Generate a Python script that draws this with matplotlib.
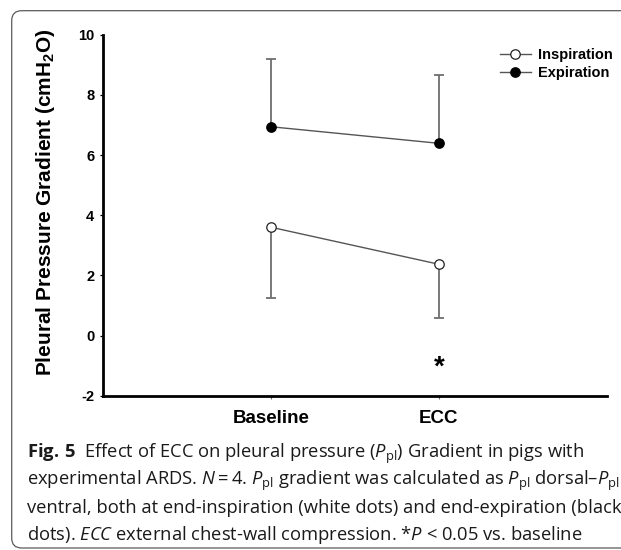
import matplotlib
matplotlib.use("Agg")
import matplotlib.pyplot as plt
import numpy as np
from matplotlib.patches import FancyBboxPatch

# values
conditions = ["Baseline", "ECC"]
insp_mean = [3.60, 2.37]
insp_sd = [2.35, 1.78]      # drawn downward only
exp_mean = [6.94, 6.39]
exp_sd = [2.24, 2.26]       # drawn upward only
star_pos = (2, -1.05)
yticks = [-2, 0, 2, 4, 6, 8, 10]

caption = [
    r"$\mathbf{Fig.\,5}$  Effect of ECC on pleural pressure ($P_{\mathrm{pl}}$) Gradient in pigs with",
    r"experimental ARDS. $N = 4$. $P_{\mathrm{pl}}$ gradient was calculated as $P_{\mathrm{pl}}$ dorsal–$P_{\mathrm{pl}}$",
    "ventral, both at end-inspiration (white dots) and end-expiration (black",
    r"dots). $ECC$ external chest-wall compression. *$P$ < 0.05 vs. baseline",
]

plt.rcParams['mathtext.fontset'] = 'custom'
plt.rcParams['mathtext.rm'] = 'Open Sans'
plt.rcParams['mathtext.it'] = 'Open Sans:italic'
plt.rcParams['mathtext.bf'] = 'Open Sans:bold'
plt.rcParams['mathtext.sf'] = 'Liberation Sans:bold'

arial = ['Liberation Sans', 'DejaVu Sans']
grey = '#6e6e6e'

fig = plt.figure(figsize=(6.21, 5.5), dpi=100)
ax = fig.add_axes([0.1663, 0.2805, 0.8106, 0.6564])

x = np.array([1, 2])
lo = np.subtract(insp_mean, insp_sd)
hi = np.add(exp_mean, exp_sd)

# one-sided error bars
ax.vlines(x, lo, insp_mean, color=grey, lw=1.3, zorder=2)
ax.plot(x, lo, ls='none', marker='_', ms=7.5, mew=1.3, color=grey, zorder=2)
ax.vlines(x, exp_mean, hi, color=grey, lw=1.3, zorder=2)
ax.plot(x, hi, ls='none', marker='_', ms=7.5, mew=1.3, color=grey, zorder=2)

ax.plot(x, insp_mean, color='#555555', lw=1.0, marker='o', ms=6.8,
        mfc='white', mec='#222222', mew=0.9, label='Inspiration', zorder=3)
ax.plot(x, exp_mean, color='#555555', lw=1.0, marker='o', ms=6.8,
        mfc='black', mec='black', mew=0.9, label='Expiration', zorder=3)

ax.text(star_pos[0], star_pos[1], '*', ha='center', va='center',
        fontsize=20, fontweight='bold', family=arial)

ax.set_xlim(0, 3)
ax.set_ylim(-2, 10)
ax.set_xticks(x)
ax.set_xticklabels(conditions, fontsize=13.5, fontweight='bold', family=arial)
ax.set_yticks(yticks)
ax.set_yticklabels([str(v) for v in yticks], fontsize=10.5, fontweight='bold', family=arial)
ax.tick_params(axis='y', length=2.4, width=0.9, pad=4)
ax.tick_params(axis='x', length=2.4, width=0.8, color=grey, pad=8)

for s in ['top', 'right']:
    ax.spines[s].set_visible(False)
for s in ['left', 'bottom']:
    ax.spines[s].set_linewidth(2.0)

ax.set_ylabel(r"Pleural Pressure Gradient (cmH$_\mathsf{2}$O)", fontsize=15,
              fontweight='bold', family=arial)
ax.yaxis.set_label_coords(-0.092, 0.535)

leg = ax.legend(loc='upper left', bbox_to_anchor=(500 / 621, 1 - 48 / 550),
                bbox_transform=fig.transFigure, frameon=False, borderpad=0,
                borderaxespad=0, handlelength=2.1, handletextpad=0.5,
                labelspacing=0.25, prop={'family': arial, 'weight': 'bold', 'size': 10.5})

# caption
for i, line in enumerate(caption):
    fig.text(27.3 / 621, 1 - (457.7 + 27.5 * i) / 550, line, ha='left', va='baseline',
             fontsize=13.2, family=['Open Sans', 'DejaVu Sans'], color='#1a1a1a')

# rounded frame running off the right edge
frame = FancyBboxPatch((0.117, 0.02), 7.0, 5.373, boxstyle='round,pad=0,rounding_size=0.1',
                       transform=fig.dpi_scale_trans, fill=False, ec='#5a5a5a', lw=0.9)
fig.add_artist(frame)

fig.savefig('out.png', dpi=100)
